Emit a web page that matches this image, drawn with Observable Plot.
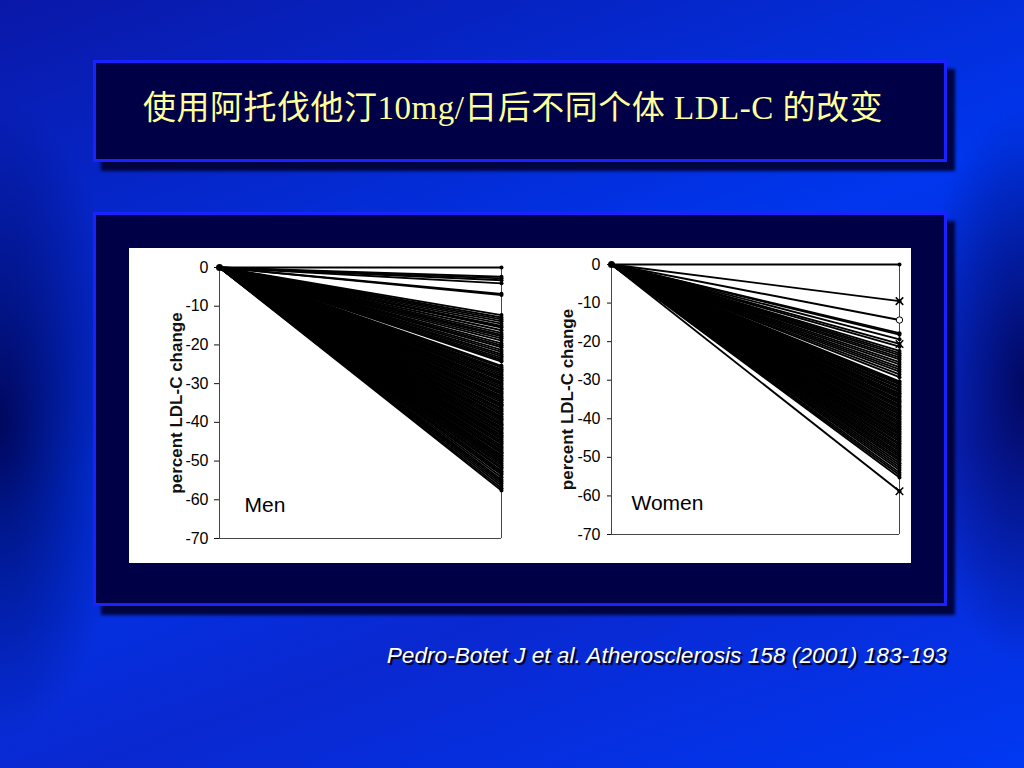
<!DOCTYPE html>
<html>
<head>
<meta charset="utf-8">
<script src="https://cdn.jsdelivr.net/npm/d3@7"></script>
<script src="https://cdn.jsdelivr.net/npm/@observablehq/plot@0.6"></script>
<style>
  html, body { margin: 0; padding: 0; }
  body {
    width: 1024px; height: 768px; position: relative; overflow: hidden;
    background:
      radial-gradient(ellipse 130px 320px at 0% 55%, rgba(0,0,70,0.85), rgba(0,0,70,0)),
      radial-gradient(ellipse 110px 280px at 100% 50%, rgba(0,0,70,0.8), rgba(0,0,70,0)),
      linear-gradient(160deg, #0a18a8 0%, #0036ee 45%, #0a28d0 70%, #0038f2 100%);
  }
  .box {
    position: absolute; box-sizing: border-box;
    background: #000046; border: 3px solid #1a22ff;
    box-shadow: 8px 9px 3px rgba(0,0,45,0.9);
  }
  #title {
    position: absolute; left: 93px; top: 87px; width: 854px; text-align: center;
    font-family: "Liberation Serif", "Noto Sans CJK SC", serif; font-size: 33px;
    color: #ffff99; line-height: 42px; padding-right: 14px; box-sizing: border-box; letter-spacing: 0.5px;
  }
  #panel { position: absolute; left: 129px; top: 248px; width: 782px; height: 315px; background: #fff; }
  #men { position: absolute; left: 0px; top: 0px; }
  #women { position: absolute; left: 391px; top: 0px; }
  #panel svg [aria-label^="y-axis tick label"] { font-size: 16px; fill: #000; }
  #cite {
    position: absolute; right: 77px; top: 642px;
    font-family: "Liberation Sans", Arial, sans-serif; font-style: italic; font-size: 22.7px;
    color: #fff; text-shadow: 2px 2px 1px #000018;
  }
</style>
</head>
<body>
<div class="box" style="left:93px;top:60px;width:854px;height:102px;"></div>
<div id="title">使用阿托伐他汀10mg/日后不同个体 LDL-C 的改变</div>
<div class="box" style="left:93px;top:212px;width:854px;height:394px;"></div>
<div id="panel"><div id="men"></div><div id="women"></div></div>
<div id="cite">Pedro-Botet J et al. Atherosclerosis 158 (2001) 183-193</div>
<script>
const yTicks = [0, -10, -20, -30, -40, -50, -60, -70];
const yLabel = "percent LDL-C change";
const panelNames = ["Men", "Women"];

// percent LDL-C change at end of treatment, one value per individual
const menEnd = [0, -2.4, -2.8, -3.3, -4.1, -6.8, -7.1,
  -12.3, -12.9, -13.4, -13.9, -14.5, -15.1, -15.5, -16.2, -16.9, -17.4, -17.8, -18.3, -18.9, -19.6, -20.1, -20.6, -21.3, -21.8, -22.4, -22.9, -23.4, -23.9, -24.3,
  -25.4, -25.8, -26.3, -26.7, -27.0, -27.5, -27.9, -28.4, -28.7, -29.1, -29.6, -30.0, -30.3, -30.8, -31.2, -31.5, -32.0, -32.4, -32.7, -33.2, -33.6, -34.0, -34.3, -34.8, -35.3, -35.6, -36.0, -36.5, -36.8, -37.2, -37.7, -38.0, -38.5, -38.9, -39.2, -39.6, -40.1, -40.5, -40.8, -41.3, -41.6, -42.0, -42.5, -42.8, -43.3, -43.7, -44.0, -44.4, -44.9, -45.3, -45.6, -46.1, -46.5, -46.8, -47.3, -47.7, -48.0, -48.5, -48.9, -49.3, -49.7, -50.1, -50.6, -51.1, -51.6, -52.0, -52.6, -53.1, -53.5, -54.2, -54.8, -55.3, -55.8, -56.4, -57.0, -57.6];

const womenEnd = [0, -9.5, -14.4, -17.8, -18.2, -19.4, -20.6, -21.3, -22.4, -23.0, -23.5, -24.1, -24.6, -25.3, -25.9, -26.6, -27.2, -27.8, -28.5, -29.2,
  -30.3, -30.7, -31.1, -31.6, -32.0, -32.5, -32.9, -33.4, -33.8, -34.2, -34.6, -35.1, -35.5, -35.9, -36.4, -36.8, -37.2, -37.7, -38.1, -38.5, -38.9, -39.4, -39.8,
  -40.2, -40.7, -41.1, -41.5, -42.0, -42.4, -42.8, -43.3, -43.7, -44.1, -44.6, -45.0, -45.5, -45.9, -46.4, -46.8, -47.3, -47.8, -48.3, -48.8, -49.3, -49.8,
  -50.4, -50.9, -51.5, -52.1, -52.7, -53.3, -54.0, -54.6, -55.2, -58.8];
const womenCross = [-9.5, -20.6, -58.8];
const womenOpen = [-14.4];

function chart(ends, name, cfg) {
  return Plot.plot({
    width: cfg.width, height: cfg.height,
    marginLeft: cfg.ml, marginRight: 10, marginTop: cfg.mt, marginBottom: 15,
    x: {domain: [0, 1], axis: null},
    y: {domain: [-70, 0], ticks: yTicks, tickFormat: d => String(d), tickSize: cfg.ts, tickPadding: cfg.tp, label: null},
    style: {fontFamily: "'Liberation Sans', Arial, sans-serif", fontSize: "16px", color: "#111", background: "transparent", overflow: "visible"},
    marks: [
      Plot.ruleX([0, 1], {x: d => d, stroke: "#444", strokeWidth: 1}),
      Plot.ruleY([-70], {y: d => d, stroke: "#444", strokeWidth: 1}),
      Plot.link(ends, {x1: () => 0, y1: () => 0, x2: () => 1, y2: d => d, stroke: "#000", strokeWidth: 1.9}),
      Plot.dot(ends, {x: () => 1, y: d => d, r: 2, fill: "#000", stroke: "none"}),
      ...(cfg.cross ? [Plot.dot(cfg.cross, {x: () => 1, y: d => d, r: 3.5, symbol: "times", stroke: "#000", strokeWidth: 1.5})] : []),
      ...(cfg.open ? [Plot.dot(cfg.open, {x: () => 1, y: d => d, r: 3.2, fill: "#fff", stroke: "#000", strokeWidth: 1})] : []),
      Plot.dot([0], {x: () => 0, y: () => 0, r: 3.5, fill: "#000"}),
      Plot.text([yLabel], {frameAnchor: "left", textAnchor: "middle", rotate: -90, dx: cfg.ldx, fontWeight: "bold", fontSize: 17, fill: "#111"}),
      Plot.text([name], {frameAnchor: "bottom-left", textAnchor: "start", dx: cfg.ndx, dy: cfg.ndy, fontSize: 21, fill: "#000"})
    ]
  });
}

document.getElementById("men").append(chart(menEnd, panelNames[0],
  {width: 382, height: 305, ml: 90, mt: 19, ts: 5, tp: 6, ldx: -43, ndx: 25, ndy: -27}));
document.getElementById("women").append(chart(womenEnd, panelNames[1],
  {width: 389, height: 301, ml: 91, mt: 16, ts: 4, tp: 7, ldx: -44, ndx: 20, ndy: -25, cross: womenCross, open: womenOpen}));
</script>
</body>
</html>
